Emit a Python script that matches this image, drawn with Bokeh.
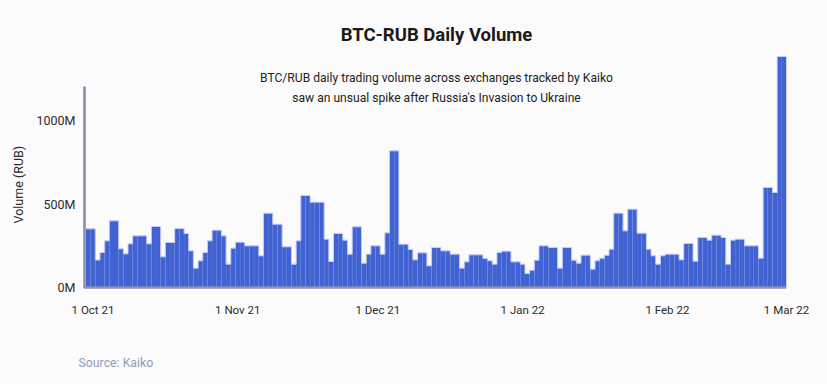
import datetime as dt
from bokeh.plotting import figure
from bokeh.models import Range1d, FixedTicker, Label, Title, LinearAxis
from bokeh.embed import file_html
from bokeh.resources import INLINE

# ---------------- data ----------------
start_date = dt.date(2021, 9, 30)          # first daily bar
volume_m = [                               # daily BTC-RUB volume, millions RUB
    352, 352, 165, 210, 280, 400, 400, 232, 202, 262,
    310, 310, 310, 262, 366, 366, 184, 270, 270, 354,
    354, 324, 220, 116, 160, 210, 280, 344, 344, 310,
    140, 236, 272, 272, 250, 250, 250, 190, 446, 446,
    380, 380, 244, 244, 140, 280, 552, 552, 512, 512,
    512, 290, 156, 324, 324, 284, 200, 364, 364, 146,
    200, 250, 250, 200, 328, 820, 820, 260, 260, 228,
    166, 208, 208, 130, 240, 240, 220, 220, 200, 200,
    116, 154, 196, 196, 196, 174, 160, 140, 210, 218,
    218, 154, 154, 140, 84, 104, 164, 250, 250, 240,
    240, 116, 240, 240, 164, 146, 194, 194, 110, 160,
    176, 194, 230, 446, 446, 340, 470, 470, 326, 326,
    230, 190, 140, 190, 200, 200, 200, 166, 264, 264,
    158, 300, 300, 284, 314, 314, 300, 140, 284, 290,
    290, 250, 250, 250, 176, 600, 600, 570, 1386, 1386,
]
tick_dates = [dt.date(2021, 10, 1), dt.date(2021, 11, 1), dt.date(2021, 12, 1),
              dt.date(2022, 1, 1), dt.date(2022, 2, 1), dt.date(2022, 3, 1)]
tick_labels = ["1 Oct 21", "1 Nov 21", "1 Dec 21", "1 Jan 22", "1 Feb 22", "1 Mar 22"]
y_ticks = [0, 500, 1000]
y_tick_labels = ["0M", "500M", "1000M"]

title_text = "BTC-RUB Daily Volume"
subtitle_lines = ["BTC/RUB daily trading volume across exchanges tracked by Kaiko",
                  "saw an unsual spike after Russia's Invasion to Ukraine"]
y_title = "Volume (RUB)"
source_text = "Source: Kaiko"

# ---------------- style ----------------
BG = "#fbfbfc"
BLUE = "#4162d3"
EDGE = "#c6cdf2"
AXIS = "#8a95b3"
FONT = "Roboto"

n = len(volume_m)
left = list(range(n))
right = [i + 1 for i in left]

p = figure(width=827, height=384, output_backend="svg", toolbar_location=None,
           x_range=Range1d(-0.96, n), y_range=Range1d(-12, 1638),
           min_border_left=81, min_border_right=41, min_border_top=14, min_border_bottom=95,
           background_fill_color=BG, border_fill_color=BG, outline_line_color=None)

p.quad(left=left, right=right, bottom=0, top=volume_m, fill_color=BLUE, line_color=None)
p.step(x=left + [n], y=volume_m + [volume_m[-1]], mode="after", line_color=EDGE, line_width=1)

# axis lines (as drawn in the reference)
p.segment(x0=[-0.32], y0=[0], x1=[-0.32], y1=[1206], line_color=AXIS, line_width=2.7)
p.segment(x0=[-0.5], y0=[0], x1=[n], y1=[0], line_color=AXIS, line_width=2.5)

# x ticks: centred on the day, last one kept inside the axis
tick_pos = [min((d - start_date).days + 0.5, n) for d in tick_dates]
p.xaxis.ticker = FixedTicker(ticks=tick_pos)
p.xaxis.major_label_overrides = {pos: lab for pos, lab in zip(tick_pos, tick_labels)}
p.yaxis.ticker = FixedTicker(ticks=y_ticks)
p.yaxis.major_label_overrides = {v: lab for v, lab in zip(y_ticks, y_tick_labels)}

for ax in (p.xaxis, p.yaxis):
    ax.axis_line_color = None
    ax.major_tick_line_color = None
    ax.minor_tick_line_color = None
    ax.major_tick_out = 0
    ax.major_tick_in = 0
    ax.major_label_text_font = FONT
    ax.major_label_text_color = "#2b2b2b"
p.xaxis.major_label_text_font_size = "11.5px"
p.yaxis.major_label_text_font_size = "12.5px"
p.xaxis.major_label_standoff = 13
p.yaxis.major_label_standoff = 6

p.xgrid.visible = False
p.ygrid.visible = False

# y-axis title
p.add_layout(Title(text=y_title, align="left", offset=66, standoff=15,
                   text_font=FONT, text_font_size="12.5px", text_font_style="normal",
                   text_color="#2b2b2b"), "left")

# blank spacer strip below the date labels, then the source line
spacer = LinearAxis(ticker=FixedTicker(ticks=[tick_pos[0]]), axis_line_color=None,
                    major_tick_line_color=None, minor_tick_line_color=None,
                    major_tick_in=0, major_tick_out=30, minor_tick_out=0,
                    major_label_standoff=0,
                    major_label_overrides={tick_pos[0]: ""})
p.add_layout(spacer, "below")
p.add_layout(Title(text=source_text, align="left", offset=-3, standoff=8,
                   text_font=FONT, text_font_size="12.3px", text_font_style="normal",
                   text_color="#8e9bbf"), "below")

# title and subtitle inside the frame (screen units relative to the frame)
p.add_layout(Label(x=355, y=255, x_units="screen", y_units="screen", text=title_text,
                   text_align="center", text_baseline="middle", text_font=FONT,
                   text_font_size="18.5px", text_font_style="bold", text_color="#1a1a1a"))
for k, line in enumerate(subtitle_lines):
    p.add_layout(Label(x=355, y=212 - 20 * k, x_units="screen", y_units="screen", text=line,
                       text_align="center", text_baseline="middle", text_font=FONT,
                       text_font_size="12.1px", text_color="#222222"))

open("out.html", "w").write(file_html(p, INLINE))
